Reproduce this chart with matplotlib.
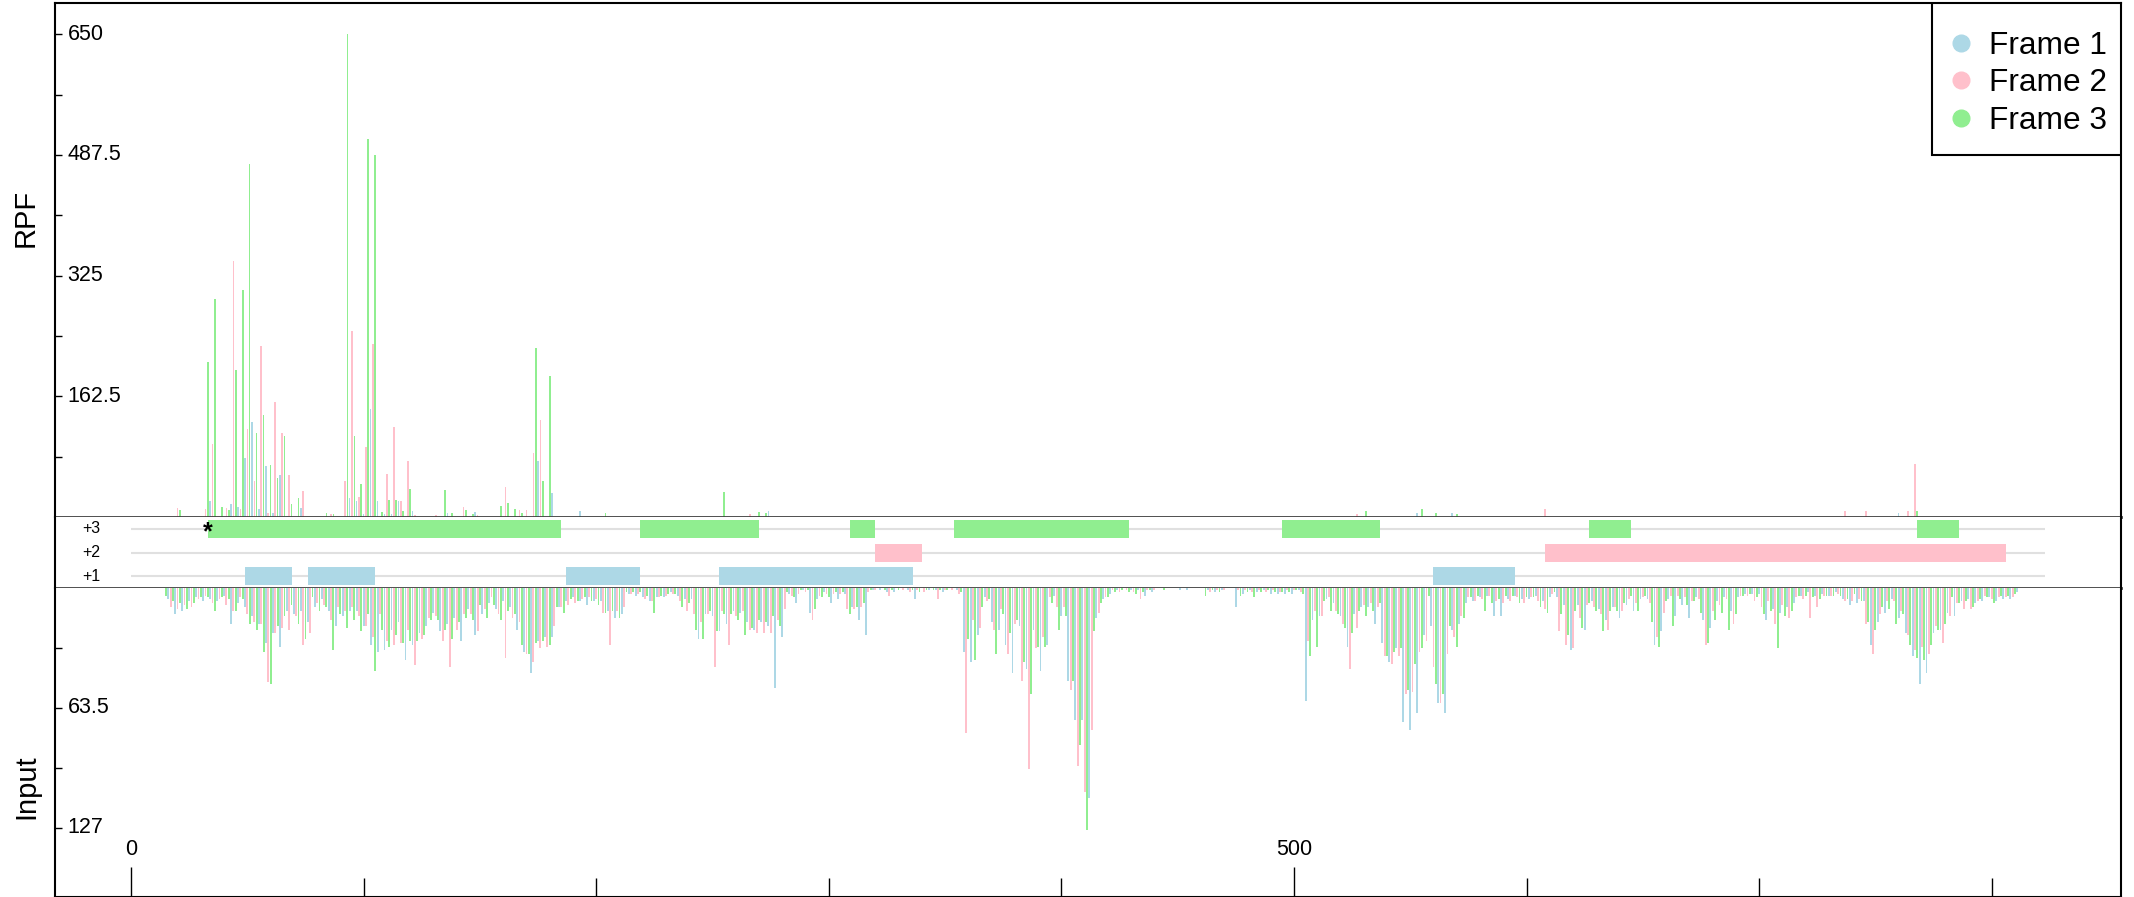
import numpy as np
import matplotlib
matplotlib.use("Agg")
import matplotlib.pyplot as plt
from matplotlib.lines import Line2D
from matplotlib.patches import Rectangle

plt.rcParams['font.family'] = ['Liberation Sans', 'DejaVu Sans']

# frames: position p belongs to frame (p - 1) % 3 + 1
frame_names = ['Frame 1', 'Frame 2', 'Frame 3']
frame_colors = ['lightblue', 'pink', 'lightgreen']

# ribosome footprints (sparse), nt position -> reads
rpf_pos = [20, 21, 32, 33, 34, 35, 36, 39, 41, 42,
           43, 44, 45, 46, 47, 48, 49, 50, 51, 52,
           53, 54, 55, 56, 57, 58, 59, 60, 61, 62,
           63, 64, 65, 66, 67, 68, 69, 72, 73, 74,
           84, 86, 87, 92, 93, 94, 95, 96, 97, 98,
           99, 100, 101, 102, 103, 104, 105, 106, 108, 109,
           110, 111, 112, 113, 114, 115, 116, 117, 119, 120,
           121, 122, 131, 135, 136, 138, 143, 144, 147, 148,
           149, 159, 161, 162, 165, 167, 168, 170, 173, 174,
           175, 176, 177, 180, 181, 193, 204, 255, 266, 270,
           273, 274, 527, 531, 553, 555, 561, 568, 570, 608,
           737, 746, 760, 764, 767, 768]
rpf_val = [12, 9, 11, 209, 21, 98, 294, 14, 12, 9,
           17, 344, 198, 13, 11, 306, 80, 118, 475, 128,
           49, 113, 11, 230, 137, 69, 6, 70, 6, 155,
           52, 56, 113, 109, 2, 56, 18, 25, 12, 35,
           6, 4, 4, 48, 650, 25, 251, 109, 22, 27,
           44, 4, 94, 509, 145, 233, 487, 22, 7, 4,
           58, 23, 4, 121, 23, 22, 21, 8, 76, 38,
           8, 3, 3, 37, 6, 6, 14, 10, 4, 7,
           3, 15, 40, 19, 11, 10, 5, 10, 86, 227,
           76, 130, 48, 190, 32, 8, 6, 34, 4, 7,
           5, 8, 4, 8, 5, 11, 5, 5, 4, 11,
           8, 8, 6, 8, 72, 8]

# input coverage, one value per nt starting at input_start
input_start = 15
input_val = [
    4, 6, 10, 7, 14, 11, 8, 12, 9, 11, 7, 10, 8, 5, 6, 5, 7, 4, 5, 6,
    8, 12, 7, 6, 5, 4, 9, 6, 19, 12, 12, 8, 5, 6, 10, 14, 19, 15, 18, 22,
    19, 19, 34, 29, 50, 51, 24, 24, 20, 31, 21, 15, 12, 22, 9, 14, 15, 19, 12, 30,
    27, 18, 24, 5, 10, 8, 12, 6, 9, 10, 12, 17, 33, 20, 10, 14, 15, 12, 21, 12,
    10, 17, 12, 15, 23, 20, 20, 14, 30, 26, 44, 34, 14, 22, 33, 28, 31, 22, 30, 25,
    18, 29, 29, 38, 22, 28, 30, 41, 28, 24, 27, 25, 20, 16, 17, 13, 15, 17, 23, 28,
    22, 19, 42, 27, 16, 22, 18, 28, 14, 16, 11, 14, 17, 25, 23, 9, 14, 11, 16, 8,
    5, 9, 11, 14, 17, 7, 37, 12, 10, 16, 14, 22, 18, 30, 34, 35, 35, 45, 39, 29,
    28, 32, 28, 26, 31, 30, 26, 20, 10, 10, 10, 13, 7, 9, 6, 5, 8, 7, 7, 6,
    5, 9, 5, 7, 7, 6, 9, 7, 13, 13, 12, 30, 12, 16, 12, 16, 14, 10, 2, 3,
    3, 2, 4, 3, 2, 5, 6, 4, 7, 7, 13, 5, 5, 4, 5, 4, 3, 2, 3, 3,
    4, 7, 10, 6, 12, 8, 6, 14, 22, 27, 18, 27, 14, 14, 12, 15, 42, 23, 23, 12,
    14, 19, 30, 14, 12, 15, 17, 13, 12, 25, 18, 22, 21, 22, 24, 17, 18, 24, 18, 20,
    24, 15, 53, 17, 20, 26, 11, 2, 3, 4, 5, 8, 3, 1, 1, 2, 1, 13, 17, 11,
    6, 4, 5, 2, 3, 5, 8, 3, 2, 6, 3, 2, 3, 11, 14, 10, 11, 10, 17, 10,
    8, 25, 2, 1, 1, 1, 0, 1, 0, 1, 2, 4, 1, 2, 0, 1, 0, 1, 0, 1,
    2, 1, 6, 1, 2, 0, 2, 1, 1, 0, 1, 1, 6, 1, 2, 1, 1, 0, 1, 0,
    1, 3, 2, 34, 77, 27, 39, 17, 38, 25, 21, 10, 5, 7, 6, 18, 22, 35, 22, 11,
    14, 30, 35, 24, 45, 19, 17, 20, 49, 39, 43, 96, 56, 22, 32, 31, 44, 26, 31, 30,
    5, 8, 4, 10, 22, 15, 10, 15, 49, 54, 49, 70, 94, 83, 70, 108, 128, 111, 75, 23,
    16, 13, 8, 6, 5, 5, 3, 1, 2, 1, 2, 1, 0, 1, 2, 1, 2, 3, 1, 6,
    2, 4, 1, 1, 2, 1, 0, 0, 0, 1, 0, 0, 0, 0, 0, 0, 1, 0, 0, 1,
    0, 0, 0, 0, 0, 0, 0, 4, 1, 2, 1, 2, 1, 2, 1, 1, 0, 0, 0, 0,
    10, 1, 4, 3, 1, 2, 1, 2, 5, 2, 1, 2, 1, 2, 1, 3, 1, 2, 3, 2,
    2, 3, 1, 2, 3, 1, 1, 1, 2, 3, 60, 28, 36, 17, 12, 31, 15, 15, 7, 6,
    5, 12, 8, 12, 14, 15, 19, 21, 31, 43, 24, 14, 21, 12, 10, 9, 15, 10, 8, 12,
    19, 10, 8, 29, 36, 36, 39, 40, 34, 32, 36, 32, 71, 56, 54, 75, 55, 40, 66, 34,
    32, 25, 28, 4, 20, 42, 51, 61, 61, 56, 66, 35, 20, 22, 26, 31, 19, 15, 16, 8,
    5, 5, 7, 7, 4, 5, 6, 12, 4, 4, 8, 15, 7, 6, 15, 8, 4, 6, 7, 4,
    4, 5, 8, 6, 8, 5, 6, 5, 5, 4, 7, 10, 7, 11, 13, 5, 3, 2, 5, 23,
    14, 9, 30, 25, 33, 32, 12, 9, 16, 21, 22, 9, 8, 7, 10, 12, 11, 14, 23, 17,
    22, 12, 10, 10, 12, 16, 12, 8, 9, 6, 4, 12, 8, 12, 6, 5, 4, 6, 8, 18,
    30, 26, 31, 23, 13, 7, 6, 4, 20, 15, 4, 6, 9, 5, 9, 16, 7, 7, 5, 6,
    13, 17, 30, 29, 21, 12, 17, 7, 9, 13, 5, 6, 22, 12, 19, 14, 5, 4, 4, 3,
    4, 3, 3, 7, 5, 3, 10, 14, 17, 7, 12, 11, 19, 32, 13, 9, 15, 10, 16, 12,
    8, 5, 4, 4, 6, 4, 2, 16, 5, 4, 10, 6, 3, 4, 4, 4, 4, 4, 2, 3,
    4, 6, 7, 6, 9, 7, 3, 8, 6, 7, 7, 19, 18, 30, 35, 22, 18, 14, 10, 13,
    7, 11, 6, 7, 19, 16, 12, 14, 24, 25, 30, 36, 33, 37, 51, 31, 38, 45, 35, 30,
    24, 20, 22, 22, 29, 19, 13, 15, 5, 15, 8, 8, 7, 11, 7, 6, 11, 10, 8, 7,
    6, 7, 4, 5, 5, 6, 8, 7, 5, 4, 6, 5, 4, 6, 5, 3, 2,
]

# ORFs (start, end) in each frame
orf_frame1 = [(49, 69), (76, 105), (187, 219), (253, 336), (560, 595)]
orf_frame2 = [(320, 340), (608, 806)]
orf_frame3 = [(33, 185), (219, 270), (309, 320), (354, 429), (495, 537), (627, 645), (768, 786)]
tx_len = 823

rpf_ticks = [81.25, 162.5, 243.75, 325, 406.25, 487.5, 568.75, 650]
input_ticks = [31.75, 63.5, 95.25, 127]
x_major = [0, 500]
x_minor = [100, 200, 300, 400, 600, 700, 800]


def frame_of(p):
    return (p - 1) % 3


W, H = 2134, 897
fig = plt.figure(figsize=(W / 100, H / 100), dpi=100)


def panel(top, bottom):
    # pixel rows -> figure fraction
    return [55 / W, 1 - bottom / H, (2121 - 55) / W, (bottom - top) / H]


ax_rpf = fig.add_axes(panel(3, 517))
ax_orf = fig.add_axes(panel(517, 588))
ax_in = fig.add_axes(panel(588, 897))
xlim = (-32.7, 855.6)
tick_fs = 15.5

# --- RPF panel
ax_rpf.bar(rpf_pos, rpf_val, width=0.7, color=[frame_colors[frame_of(p)] for p in rpf_pos], linewidth=0)
ax_rpf.set_xlim(*xlim)
ax_rpf.set_ylim(0, 692)
ax_rpf.set_xticks([])
ax_rpf.set_yticks(rpf_ticks)
ax_rpf.tick_params(axis='y', direction='in', length=4.8, width=1, labelleft=False)
for v in rpf_ticks[1::2]:
    ax_rpf.text(0.006, v, f'{v:g}', transform=ax_rpf.get_yaxis_transform(),
                ha='left', va='center', fontsize=tick_fs)

# legend: entries without frame, box drawn separately so the padding can differ
handles = [Line2D([0], [0], marker='o', ls='none', color=c, markersize=12) for c in frame_colors]
leg = ax_rpf.legend(handles, frame_names, loc='upper right', bbox_to_anchor=(1.0025, 0.984),
                    fontsize=22.8, frameon=False, borderaxespad=0, borderpad=0.62,
                    labelspacing=0.24, handlelength=0.55, handletextpad=0.6)
ax_rpf.add_patch(Rectangle((0.9084, 0.7043), 0.0916, 0.2957, transform=ax_rpf.transAxes,
                           facecolor='white', edgecolor='black', lw=1.5, zorder=4))
leg.set_zorder(5)

# --- ORF panel
for i, orfs in enumerate([orf_frame1, orf_frame2, orf_frame3]):
    y = i + 1
    ax_orf.hlines(y, 0, tx_len, color='#e0e0e0', lw=1.5, zorder=1)
    ax_orf.broken_barh([(s, e - s) for s, e in orfs], (y - 0.375, 0.75),
                       facecolors=frame_colors[i], zorder=2)
    ax_orf.text(-17, y, f'+{y}', ha='center', va='center', fontsize=11.5)
ax_orf.text(orf_frame3[0][0], 3 - 0.16, '*', ha='center', va='center', fontsize=18, fontweight='bold')
ax_orf.set_xlim(*xlim)
ax_orf.set_ylim(0.51, 3.5)
ax_orf.set_xticks([])
ax_orf.set_yticks([])

# --- Input panel (drawn downwards)
in_pos = np.arange(input_start, input_start + len(input_val))
ax_in.bar(in_pos, input_val, width=0.8, color=[frame_colors[frame_of(p)] for p in in_pos], linewidth=0)
ax_in.set_xlim(*xlim)
ax_in.set_ylim(163.6, 0)
ax_in.set_yticks(input_ticks)
ax_in.tick_params(axis='y', direction='in', length=4.8, width=1, labelleft=False)
for v in input_ticks[1::2]:
    ax_in.text(0.006, v, f'{v:g}', transform=ax_in.get_yaxis_transform(),
               ha='left', va='center', fontsize=tick_fs)
ax_in.set_xticks(x_major)
ax_in.set_xticks(x_minor, minor=True)
ax_in.tick_params(axis='x', which='major', direction='in', length=21.5, width=1, labelbottom=False)
ax_in.tick_params(axis='x', which='minor', direction='in', length=14, width=1)
for x in x_major:
    ax_in.text(x, 0.155, str(x), transform=ax_in.get_xaxis_transform(),
               ha='center', va='center', fontsize=tick_fs)

# spines: black outer box, dark grey dividers between panels
for ax in (ax_rpf, ax_orf, ax_in):
    for s in ax.spines.values():
        s.set_linewidth(1.5)
        s.set_color('black')
ax_rpf.spines['bottom'].set_color('#404040')
ax_rpf.spines['bottom'].set_linewidth(2)
ax_orf.spines['top'].set_visible(False)
ax_orf.spines['bottom'].set_color('#404040')
ax_orf.spines['bottom'].set_linewidth(2)
ax_in.spines['top'].set_visible(False)

fig.text(26 / W, 1 - 217.5 / H, 'RPF', rotation=90, ha='center', va='center', fontsize=21)
fig.text(26 / W, 1 - 787 / H, 'Input', rotation=90, ha='center', va='center', fontsize=21)

fig.savefig('out.png', dpi=100)
